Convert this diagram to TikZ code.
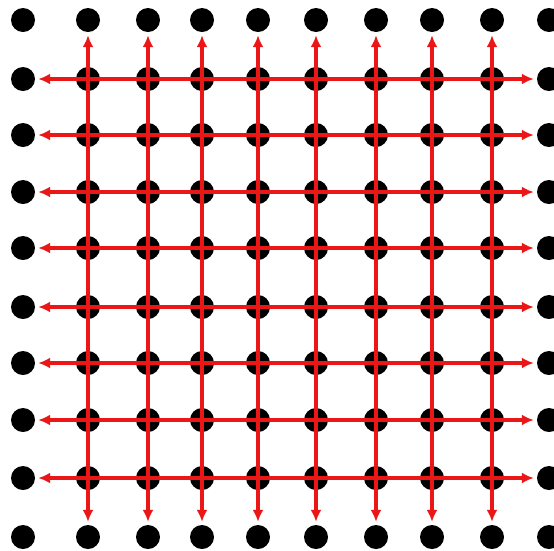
\documentclass[tikz,border=0pt]{standalone}
\usetikzlibrary{arrows.meta}
\definecolor{gridred}{RGB}{235,22,22}
\tikzset{
  dot/.style={circle,fill=black,draw=none,minimum size=24pt,inner sep=0pt},
  redline/.style={draw=gridred,line width=4.6pt,shorten <=3pt,shorten >=3pt,
    {Latex[length=12pt,width=11pt]}-{Latex[length=12pt,width=11pt]}}
}
\begin{document}
\begin{tikzpicture}[x=1pt,y=-1pt]
\useasboundingbox (0,0) rectangle (554,550);
\fill[white] (0,0) rectangle (554,550);
\foreach \x [count=\i from 0] in {23,88,148,202,258,316,376,432,492,549}{
  \foreach \y [count=\j from 0] in {20,79,135,192,248,307,363,420,478,537}{
    \node[dot] (d-\i-\j) at (\x,\y) {};
  }
}
\foreach \j in {1,...,8}{
  \draw[redline] (d-0-\j) -- (d-9-\j);
}
\foreach \i in {1,...,8}{
  \draw[redline] (d-\i-0) -- (d-\i-9);
}
\end{tikzpicture}
\end{document}
